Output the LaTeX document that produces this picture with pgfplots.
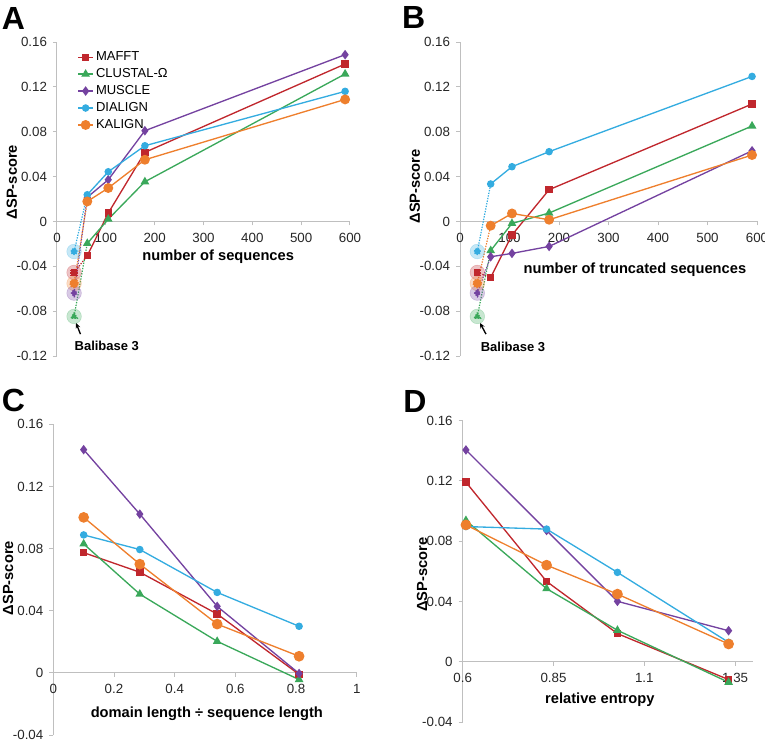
\documentclass[border=0pt]{standalone}
\usepackage{fontspec}
\setmainfont{Liberation Sans}
\usepackage{pgfplots}
\pgfplotsset{compat=1.18}
\usetikzlibrary{arrows.meta}
\definecolor{cMA}{HTML}{C0272D}
\definecolor{cCL}{HTML}{3AA85A}
\definecolor{cMU}{HTML}{7442A0}
\definecolor{cDI}{HTML}{34ACE0}
\definecolor{cKA}{HTML}{EE7F2D}
\definecolor{axgray}{HTML}{BFBFBF}
\definecolor{tickc}{HTML}{262626}
\tikzset{lbl/.style={font=\bfseries\fontsize{11}{13}\selectfont, text=black}}
\pgfplotsset{
  panel/.style={
    scale only axis, anchor=south west,
    axis x line=middle, axis y line=left,
    axis line style={draw=axgray, line width=0.75pt, -},
    every tick/.style={draw=axgray, line width=0.75pt},
    tick align=outside, major tick length=3pt,
    hide obscured x ticks=false, hide obscured y ticks=false,
    tick label style={font=\fontsize{10}{12}\selectfont, text=tickc},
    /pgf/number format/assume math mode=true,
    yticklabel style={/pgf/number format/.cd, fixed, precision=2, /tikz/.cd, xshift=-1pt},
    xticklabel style={/pgf/number format/.cd, fixed, precision=2, /tikz/.cd, yshift=-2.2pt},
    clip=false,
    ytick={-0.12,-0.08,-0.04,0,0.04,0.08,0.12,0.16},
  },
  sMA/.style={color=cMA, line width=1pt, mark=square*, mark size=2.3pt},
  sCL/.style={color=cCL, line width=1pt, mark=triangle*, mark size=2.8pt},
  sMU/.style={color=cMU, line width=1pt, mark=diamond*, mark size=2.8pt},
  sDI/.style={color=cDI, line width=1pt, mark=*, mark size=2.3pt},
  sKA/.style={color=cKA, line width=1pt, mark=*, mark size=3.2pt},
  glow/.style={forget plot, only marks, mark=*, mark size=5.5pt, color=#1, opacity=0.28},
  dot/.style={forget plot, densely dotted, line width=0.9pt, mark indices={1}},
}
\begin{document}
\begin{tikzpicture}
\path[use as bounding box] (0pt,0pt) rectangle (573.75pt,-555pt);
\node[anchor=base west, inner sep=0pt, font=\bfseries\fontsize{24}{24}\selectfont] at (1.3pt,-21.75pt) {A};
\node[anchor=base west, inner sep=0pt, font=\bfseries\fontsize{24}{24}\selectfont] at (301.3pt,-21pt) {B};
\node[anchor=base west, inner sep=0pt, font=\bfseries\fontsize{24}{24}\selectfont] at (1.3pt,-308.25pt) {C};
\node[anchor=base west, inner sep=0pt, font=\bfseries\fontsize{24}{24}\selectfont] at (302.25pt,-309pt) {D};

% ---------------- A
\begin{axis}[panel, at={(42.75pt,-267pt)}, width=219.75pt, height=235.5pt,
  xmin=0, xmax=600, ymin=-0.12, ymax=0.16, xtick={0,100,...,600},
  xlabel={number of sequences}, ylabel={ΔSP-score},
  xlabel style={lbl, at={(rel axis cs:0.55,0.315)}, anchor=center},
  ylabel style={lbl, at={(rel axis cs:-0.154,0.554)}, anchor=center},
  legend style={draw=none, fill=none, at={(rel axis cs:0.055,0.985)}, anchor=north west,
    font=\fontsize{9.75}{11}\selectfont, row sep=1.2pt, nodes={inner sep=1.6pt}},
  legend cell align=left,
  legend image code/.code={\draw[mark repeat=2,mark phase=2] plot coordinates {(0cm,0cm) (0.2cm,0cm) (0.4cm,0cm)};},
]
\addplot[glow=cDI] coordinates {(35,-0.0268)};
\addplot[glow=cMA] coordinates {(35,-0.0455)};
\addplot[glow=cKA] coordinates {(35,-0.0553)};
\addplot[glow=cMU] coordinates {(35,-0.0639)};
\addplot[glow=cCL] coordinates {(35,-0.0847)};
\addplot[sMA, dot] coordinates {(35,-0.0455)(62,-0.0306)};
\addplot[sCL, dot] coordinates {(35,-0.0847)(62,-0.0196)};
\addplot[sMU, dot] coordinates {(35,-0.0639)(62,0.0215)};
\addplot[sDI, dot] coordinates {(35,-0.0268)(62,0.0238)};
\addplot[sKA, dot] coordinates {(35,-0.0553)(62,0.0178)};
\addplot[sMA] coordinates {(62,-0.0306)(105,0.0075)(180,0.0616)(590,0.1404)};
\addplot[sCL] coordinates {(62,-0.0196)(105,0.0020)(180,0.0354)(590,0.1315)};
\addplot[sMU] coordinates {(62,0.0215)(105,0.0372)(180,0.0809)(590,0.1487)};
\addplot[sDI] coordinates {(62,0.0238)(105,0.0443)(180,0.0675)(590,0.1160)};
\addplot[sKA] coordinates {(62,0.0178)(105,0.0298)(180,0.0550)(590,0.1088)};
\legend{MAFFT,CLUSTAL-Ω,MUSCLE,DIALIGN,KALIGN}
\draw[-{Stealth[length=4pt,width=3.5pt]}, line width=1pt] (axis cs:48,-0.1005) -- (axis cs:39,-0.0905);
\node[font=\bfseries\fontsize{9.75}{11}\selectfont] at (axis cs:102,-0.111) {Balibase 3};
\end{axis}

% ---------------- B
\begin{axis}[panel, at={(345pt,-267pt)}, width=222.75pt, height=235.5pt,
  xmin=0, xmax=600, ymin=-0.12, ymax=0.16, xtick={0,100,...,600},
  xlabel={number of truncated sequences}, ylabel={ΔSP-score},
  xlabel style={lbl, at={(rel axis cs:0.589,0.275)}, anchor=center},
  ylabel style={lbl, at={(rel axis cs:-0.152,0.54)}, anchor=center},
]
\addplot[glow=cDI] coordinates {(35,-0.0268)};
\addplot[glow=cMA] coordinates {(35,-0.0455)};
\addplot[glow=cKA] coordinates {(35,-0.0553)};
\addplot[glow=cMU] coordinates {(35,-0.0639)};
\addplot[glow=cCL] coordinates {(35,-0.0847)};
\addplot[sMA, dot] coordinates {(35,-0.0455)(62,-0.0500)};
\addplot[sCL, dot] coordinates {(35,-0.0847)(62,-0.0260)};
\addplot[sMU, dot] coordinates {(35,-0.0639)(62,-0.0315)};
\addplot[sDI, dot] coordinates {(35,-0.0268)(62,0.0334)};
\addplot[sKA, dot] coordinates {(35,-0.0553)(62,-0.0038)};
\addplot[sMA] coordinates {(62,-0.0500)(105,-0.0121)(180,0.0283)(590,0.1047)};
\addplot[sCL] coordinates {(62,-0.0260)(105,-0.0018)(180,0.0075)(590,0.0851)};
\addplot[sMU] coordinates {(62,-0.0315)(105,-0.0285)(180,-0.0223)(590,0.0630)};
\addplot[sDI] coordinates {(62,0.0334)(105,0.0488)(180,0.0622)(590,0.1293)};
\addplot[sKA] coordinates {(62,-0.0038)(105,0.0071)(180,0.0015)(590,0.0592)};
\draw[-{Stealth[length=4pt,width=3.5pt]}, line width=1pt] (axis cs:52.5,-0.1005) -- (axis cs:40.4,-0.0905);
\node[font=\bfseries\fontsize{9.75}{11}\selectfont] at (axis cs:107,-0.112) {Balibase 3};
\end{axis}

% ---------------- C
\begin{axis}[panel, at={(40pt,-551.25pt)}, width=227.55pt, height=233pt,
  xmin=0, xmax=1, ymin=-0.04, ymax=0.16, xtick={0,0.2,0.4,0.6,0.8,1},
  ytick={-0.04,0,0.04,0.08,0.12,0.16},
  xlabel={domain length ÷ sequence length}, ylabel={ΔSP-score},
  xlabel style={lbl, at={(rel axis cs:0.506,0.07)}, anchor=center},
  ylabel style={lbl, at={(rel axis cs:-0.149,0.505)}, anchor=center},
]
\addplot[sMA] coordinates {(0.1,0.0774)(0.285,0.0648)(0.54,0.0379)(0.81,-0.0010)};
\addplot[sCL] coordinates {(0.1,0.0830)(0.285,0.0507)(0.54,0.0203)(0.81,-0.0043)};
\addplot[sMU] coordinates {(0.1,0.1437)(0.285,0.1022)(0.54,0.0428)(0.81,-0.0004)};
\addplot[sDI] coordinates {(0.1,0.0888)(0.285,0.0794)(0.54,0.0518)(0.81,0.0300)};
\addplot[sKA, mark size=3.5pt] coordinates {(0.1,0.1001)(0.285,0.0700)(0.54,0.0314)(0.81,0.0107)};
\end{axis}

% ---------------- D
\begin{axis}[panel, at={(347pt,-541.7pt)}, width=218pt, height=226.2pt,
  xmin=0.6, xmax=1.4, ymin=-0.04, ymax=0.16, xtick={0.6,0.85,1.1,1.35},
  ytick={-0.04,0,0.04,0.08,0.12,0.16},
  xlabel={relative entropy}, ylabel={ΔSP-score},
  xlabel style={lbl, at={(rel axis cs:0.472,0.075)}, anchor=center},
  ylabel style={lbl, at={(rel axis cs:-0.14,0.49)}, anchor=center},
]
\addplot[sMA] coordinates {(0.609,0.1192)(0.831,0.0534)(1.026,0.0188)(1.332,-0.0117)};
\addplot[sCL] coordinates {(0.609,0.0938)(0.831,0.0486)(1.026,0.0210)(1.332,-0.0135)};
\addplot[sMU] coordinates {(0.609,0.1406)(0.831,0.0872)(1.026,0.0402)(1.332,0.0207)};
\addplot[sDI] coordinates {(0.609,0.0898)(0.831,0.0881)(1.026,0.0594)(1.332,0.0130)};
\addplot[sKA, mark size=3.5pt] coordinates {(0.609,0.0909)(0.831,0.0642)(1.026,0.0450)(1.332,0.0119)};
\end{axis}
\end{tikzpicture}
\end{document}
